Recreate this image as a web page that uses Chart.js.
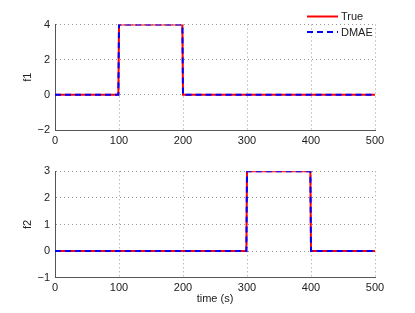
<!DOCTYPE html>
<html>
<head>
<meta charset="utf-8">
<script src="https://cdn.jsdelivr.net/npm/chart.js@4.4.1/dist/chart.umd.min.js"></script>
<style>
  html, body { margin: 0; padding: 0; background: #fff; }
  #wrap { position: relative; width: 415px; height: 313px; }
  canvas { position: absolute; left: 0; }
  #topChart { top: 0; }
  #bottomChart { top: 155px; }
</style>
</head>
<body>
<div id="wrap">
  <canvas id="topChart" width="415" height="155"></canvas>
  <canvas id="bottomChart" width="415" height="158"></canvas>
</div>
<script>
// data (step signals, knots only)
const timeSec = [0, 99, 100, 199, 200, 299, 300, 399, 400, 500];
const f1True = [0, 0, 4, 4, 0, 0, 0, 0, 0, 0];
const f1Dmae = [0, 0, 4, 4, 0, 0, 0, 0, 0, 0];
const f2True = [0, 0, 0, 0, 0, 0, 3, 3, 0, 0];
const f2Dmae = [0, 0, 0, 0, 0, 0, 3, 3, 0, 0];
const xTicks = [0, 100, 200, 300, 400, 500];
const f1Ticks = [-2, 0, 2, 4];
const f2Ticks = [-1, 0, 1, 2, 3];
const seriesNames = ['True', 'DMAE'];

const FONT = 'Liberation Sans, Arial, Helvetica, sans-serif';
const RED = 'rgb(255,0,0)';
const BLUE = 'rgb(0,0,255)';
const DASH = [6, 4];

Chart.defaults.animation = false;
Chart.defaults.font.family = FONT;
Chart.defaults.font.size = 11;
Chart.defaults.color = '#222';

function toXY(ys) {
  return timeSec.map((t, i) => ({ x: t, y: ys[i] }));
}

function minusLabel(v) {
  return v < 0 ? '\u2212' + Math.abs(v) : String(v);
}

// legend with line samples, no box (like legend boxoff)
const lineLegend = {
  id: 'lineLegend',
  afterDraw(chart) {
    const ctx = chart.ctx;
    const rows = [
      { y: 16.5, color: RED, dash: [] },
      { y: 32, color: BLUE, dash: DASH },
    ];
    ctx.save();
    rows.forEach((r, i) => {
      ctx.strokeStyle = r.color;
      ctx.lineWidth = 2;
      ctx.setLineDash(r.dash);
      ctx.beginPath();
      ctx.moveTo(307, r.y);
      ctx.lineTo(338, r.y);
      ctx.stroke();
      ctx.setLineDash([]);
      ctx.fillStyle = '#222';
      ctx.font = '11px ' + FONT;
      ctx.textBaseline = 'middle';
      ctx.textAlign = 'left';
      ctx.fillText(seriesNames[i], 341, r.y + 0.5);
    });
    ctx.restore();
  }
};

function makePanel(el, opts) {
  return new Chart(el.getContext('2d'), {
    type: 'line',
    data: {
      datasets: [
        {
          label: seriesNames[0],
          data: toXY(opts.trueVals),
          borderColor: RED,
          borderWidth: 2,
          pointRadius: 0,
          tension: 0,
          order: 1,
        },
        {
          label: seriesNames[1],
          data: toXY(opts.dmaeVals),
          borderColor: BLUE,
          borderWidth: 2,
          borderDash: DASH,
          pointRadius: 0,
          tension: 0,
          order: 0,
        }
      ]
    },
    options: {
      responsive: false,
      animation: false,
      layout: { padding: { left: 0, right: 40, top: opts.padTop, bottom: 0 } },
      plugins: { legend: { display: false }, tooltip: { enabled: false } },
      scales: {
        x: {
          type: 'linear',
          min: 0, max: 500,
          afterBuildTicks: (s) => { s.ticks = xTicks.map(v => ({ value: v })); },
          afterFit: (s) => { s.height = opts.xHeight; },
          ticks: { padding: 4, maxRotation: 0, color: '#222' },
          grid: { color: 'rgba(0,0,0,0.4)', drawTicks: false, lineWidth: 1 },
          border: { display: true, color: '#555', width: 1, dash: [1, 3] },
          title: {
            display: !!opts.xTitle,
            text: opts.xTitle || '',
            padding: { top: 0, bottom: 7 },
            color: '#222',
          }
        },
        y: {
          type: 'linear',
          min: opts.yTicks[0], max: opts.yTicks[opts.yTicks.length - 1],
          afterBuildTicks: (s) => { s.ticks = opts.yTicks.map(v => ({ value: v })); },
          afterFit: (s) => { s.width = 55; },
          ticks: { padding: 5, callback: minusLabel, color: '#222' },
          grid: { color: 'rgba(0,0,0,0.4)', drawTicks: false, lineWidth: 1 },
          border: { display: true, color: '#555', width: 1, dash: [1, 3] },
          title: {
            display: true,
            text: opts.yTitle,
            padding: { top: 21, bottom: 0 },
            color: '#222',
          }
        }
      }
    },
    plugins: opts.legend ? [lineLegend] : []
  });
}

makePanel(document.getElementById('topChart'), {
  trueVals: f1True, dmaeVals: f1Dmae, yTicks: f1Ticks, yTitle: 'f1',
  padTop: 24.5, xHeight: 25, legend: true
});

makePanel(document.getElementById('bottomChart'), {
  trueVals: f2True, dmaeVals: f2Dmae, yTicks: f2Ticks, yTitle: 'f2',
  padTop: 16.3, xHeight: 35.3, xTitle: 'time (s)', legend: false
});
</script>
</body>
</html>
